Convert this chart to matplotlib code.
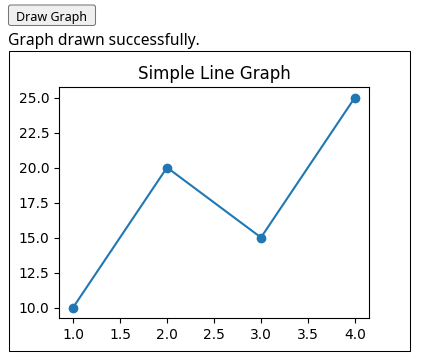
import matplotlib
matplotlib.use("Agg")
import matplotlib.pyplot as plt
import matplotlib.patches as patch

# data
xs = [1, 2, 3, 4]
ys = [10, 20, 15, 25]
title = "Simple Line Graph"
button_label = "Draw Graph"
status_text = "Graph drawn successfully."

W, H = 426, 361

fig = plt.figure(figsize=(W / 100, H / 100), dpi=100)
fig.patch.set_facecolor("white")

def fx(px):
    return px / W

def fy(py):
    return 1 - py / H

# button
btn = patch.FancyBboxPatch((fx(8.5), fy(25.5)), fx(87), 20.5 / H,
                           boxstyle="round,pad=0,rounding_size=0.006",
                           transform=fig.transFigure, facecolor="#efefef",
                           edgecolor="#767676", linewidth=0.75)
fig.patches.append(btn)
fig.text(fx(52), fy(20.5), button_label, ha="center", va="baseline",
         fontsize=9.0, family=["Noto Sans", "DejaVu Sans"], color="black")

# status line
fig.text(fx(8.5), fy(45), status_text, ha="left", va="baseline",
         fontsize=11.2, family=["Noto Sans", "DejaVu Sans"], color="black")

# image border
border = patch.Rectangle((fx(8.5), fy(350.5)), fx(401), 300 / H,
                         transform=fig.transFigure, facecolor="none",
                         edgecolor="black", linewidth=0.75)
fig.patches.append(border)

# chart axes, placed like the default subplot inside the 400x300 image
ax = fig.add_axes([fx(9 + 0.125 * 400), fy(51 + 0.89 * 300),
                   0.775 * 400 / W, 0.77 * 300 / H])
ax.plot(xs, ys, marker="o", color="#1f77b4")
ax.set_title(title)

fig.savefig("out.png", dpi=100)
